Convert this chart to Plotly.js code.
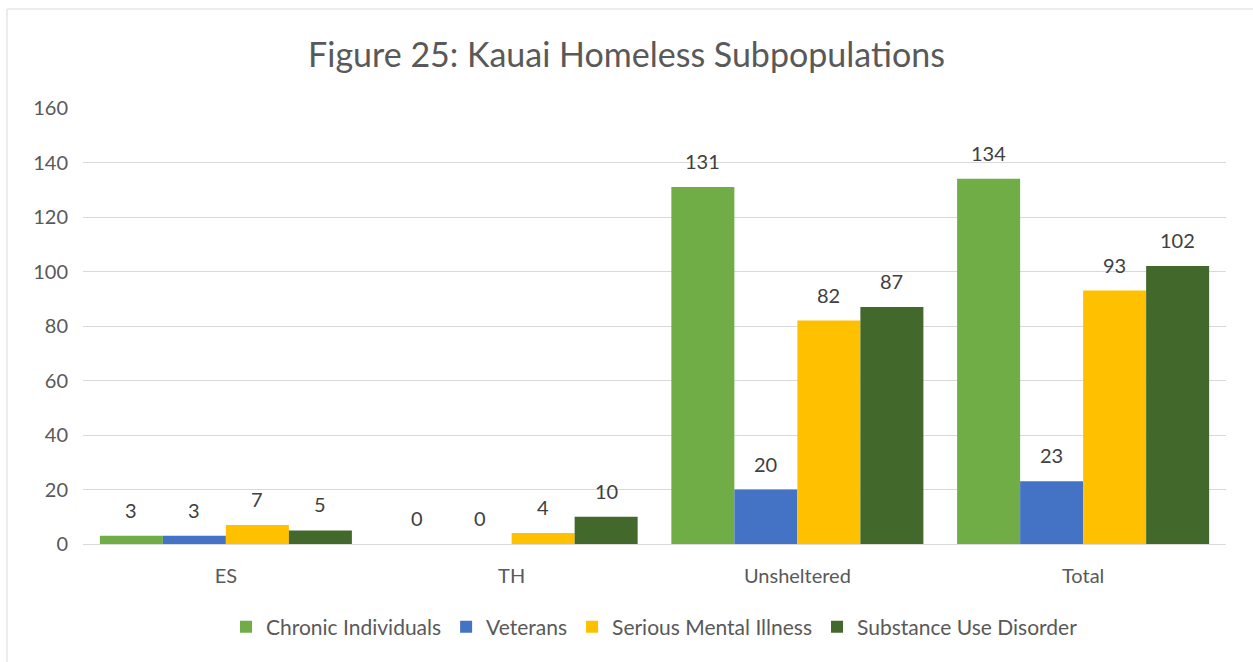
<!DOCTYPE html>
<html><head><meta charset="utf-8">
<script src="https://cdn.plot.ly/plotly-3.0.1.min.js"></script>
<style>html,body{margin:0;padding:0;background:#fff}#chart{width:1253px;height:662px}</style>
</head><body><div id="chart"></div>
<script>
const categories = ["ES", "TH", "Unsheltered", "Total"];
const seriesNames = ["Chronic Individuals", "Veterans", "Serious Mental Illness", "Substance Use Disorder"];
const chronic = [3, 0, 131, 134];
const veterans = [3, 0, 20, 23];
const mentalIllness = [7, 4, 82, 93];
const substanceUse = [5, 10, 87, 102];
const yTicks = [0, 20, 40, 60, 80, 100, 120, 140, 160];
const colors = ["#70ad47", "#4472c4", "#ffc000", "#43682b"];

const FONT = "Lato, 'Open Sans', 'Liberation Sans', sans-serif";
const allSeries = [chronic, veterans, mentalIllness, substanceUse];
const traces = allSeries.map((vals, i) => ({
  type: "bar", name: seriesNames[i], x: categories, y: vals,
  marker: {color: colors[i]},
  hoverinfo: "x+y+name"
}));

// data labels placed above each bar via annotations
const plotW = 1253 - 83 - 27;
const bargap = 0.118;
const barPx = plotW / categories.length * (1 - bargap) / allSeries.length;
const annotations = [];
allSeries.forEach((vals, i) => {
  vals.forEach((v, j) => {
    annotations.push({
      x: categories[j], y: v, xref: "x", yref: "y", text: String(v), showarrow: false,
      xshift: (i - (allSeries.length - 1) / 2) * barPx, yshift: 26, yanchor: "middle",
      font: {family: FONT, size: 20, color: "#404040"}
    });
  });
});

const layout = {
  width: 1253, height: 662,
  paper_bgcolor: "#fff", plot_bgcolor: "#fff",
  margin: {l: 83, r: 27, t: 108, b: 118},
  font: {family: FONT, color: "#595959"},
  title: {text: "Figure 25: Kauai Homeless Subpopulations", font: {family: FONT, size: 34, color: "#595959"},
          x: 0.5, xref: "container", y: 1 - 55/662, yref: "container", yanchor: "middle"},
  barmode: "group", bargap: bargap, bargroupgap: 0,
  xaxis: {type: "category", showgrid: false, showline: true, linecolor: "#d9d9d9", linewidth: 1,
          ticks: "", tickfont: {family: FONT, size: 20, color: "#595959"}, ticklabelstandoff: 14},
  yaxis: {range: [0, 160], tickvals: yTicks, ticktext: yTicks.map(String), showgrid: true,
          gridcolor: "#d9d9d9", gridwidth: 1, zeroline: false, showline: false, ticks: "",
          tickfont: {family: FONT, size: 20, color: "#595959"}, ticklabelstandoff: 14},
  legend: {orientation: "h", x: 0.5, xanchor: "center", y: (544-627)/436, yanchor: "middle",
           font: {family: FONT, size: 21, color: "#595959"}, traceorder: "normal", itemwidth: 20},
  annotations: annotations,
  shapes: [
    {type: "line", xref: "paper", yref: "paper", x0: (7-83)/1143, x1: (7-83)/1143, y0: (544-9)/436, y1: -0.5,
     line: {color: "#d9d9d9", width: 1}},
    {type: "line", xref: "paper", yref: "paper", x0: (7-83)/1143, x1: 1.2, y0: (544-9)/436, y1: (544-9)/436,
     line: {color: "#d9d9d9", width: 1}}
  ],
  showlegend: true
};
Plotly.newPlot("chart", traces, layout, {displayModeBar: false, staticPlot: true});
</script></body></html>
